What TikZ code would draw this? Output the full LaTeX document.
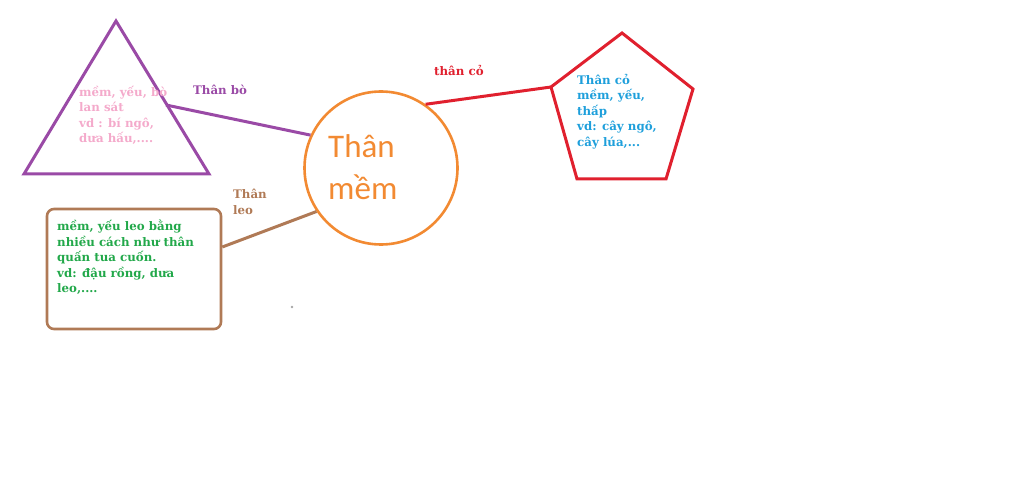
\documentclass[tikz,border=0pt]{standalone}
\usepackage{fontspec}
\setmainfont{DejaVu Serif}
\newfontfamily\circfont{Carlito}
\definecolor{cpurple}{HTML}{9A4AA6}
\definecolor{corange}{HTML}{F28A32}
\definecolor{cred}{HTML}{E0202E}
\definecolor{cbrown}{HTML}{B07A56}
\definecolor{cpink}{HTML}{F4AACB}
\definecolor{cblue}{HTML}{1E9FDB}
\definecolor{cgreen}{HTML}{22A84A}
\tikzset{
  shapeline/.style={line width=3pt},
  conn/.style={line width=3pt},
  bodytext/.style={font=\bfseries\fontsize{11.8}{15.5}\selectfont, align=left, anchor=north west, inner sep=0pt},
  lbl/.style={font=\bfseries\fontsize{11.8}{15.5}\selectfont, align=left, anchor=north west, inner sep=0pt},
}
\begin{document}
\begin{tikzpicture}[x=1pt,y=-1pt]
\useasboundingbox (0,0) rectangle (1024,494);
% triangle
\coordinate (ta) at (116,21);
\coordinate (tl) at (24,174);
\coordinate (tr) at (209,174);
\draw[shapeline, cpurple, line join=miter] (ta) -- (tr) -- (tl) -- cycle;
\coordinate (triEnd) at (166,105);
% circle
\node[draw=corange, line width=2.6pt, circle, minimum size=153pt, inner sep=0pt] (circ) at (381,168) {};
\node[anchor=base west, inner sep=0pt, text=corange, font=\circfont\fontsize{33}{42}\selectfont] (t1) at (328,158) {Thân};
\node[anchor=base west, inner sep=0pt, text=corange, font=\circfont\fontsize{33}{42}\selectfont] (t2) at (328,200) {mềm};
% pentagon
\coordinate (p1) at (622,33);
\coordinate (p2) at (693,89);
\coordinate (p3) at (666,179);
\coordinate (p4) at (577,179);
\coordinate (p5) at (551,87);
\draw[shapeline, cred, line join=miter] (p1) -- (p2) -- (p3) -- (p4) -- (p5) -- cycle;
% box
\node[draw=cbrown, line width=2.6pt, rounded corners=7pt, minimum width=174pt, minimum height=120pt, inner sep=0pt] (box) at (134,269) {};
% connectors
\draw[conn, cpurple] (triEnd) -- (circ.155);
\draw[conn, cred] (circ.55) -- (p5);
\draw[conn, cbrown] (box.east |- 0,247) -- (circ.-146);
% texts
\node[bodytext, text=cpink] (tritext) at (79,86) {mềm, yếu, bò\\lan sát\\vd : bí ngô,\\dưa hấu,....};
\node[bodytext, text=cblue] (pentext) at (577,74) {Thân cỏ\\mềm, yếu,\\thấp\\vd: cây ngô,\\cây lúa,...};
\node[bodytext, text=cgreen] (boxtext) at (57,220) {mềm, yếu leo bằng\\nhiều cách như thân\\quấn tua cuốn.\\vd: đậu rồng, dưa\\leo,....};
\node[lbl, text=cpurple] (lbo) at (193,85) {Thân bò};
\node[lbl, text=cred] (lco) at (434,65) {thân cỏ};
\node[lbl, text=cbrown] (lleo) at (233,189) {Thân\\leo};
\fill[gray!70] (292,307) circle (1.3pt);
\end{tikzpicture}
\end{document}
